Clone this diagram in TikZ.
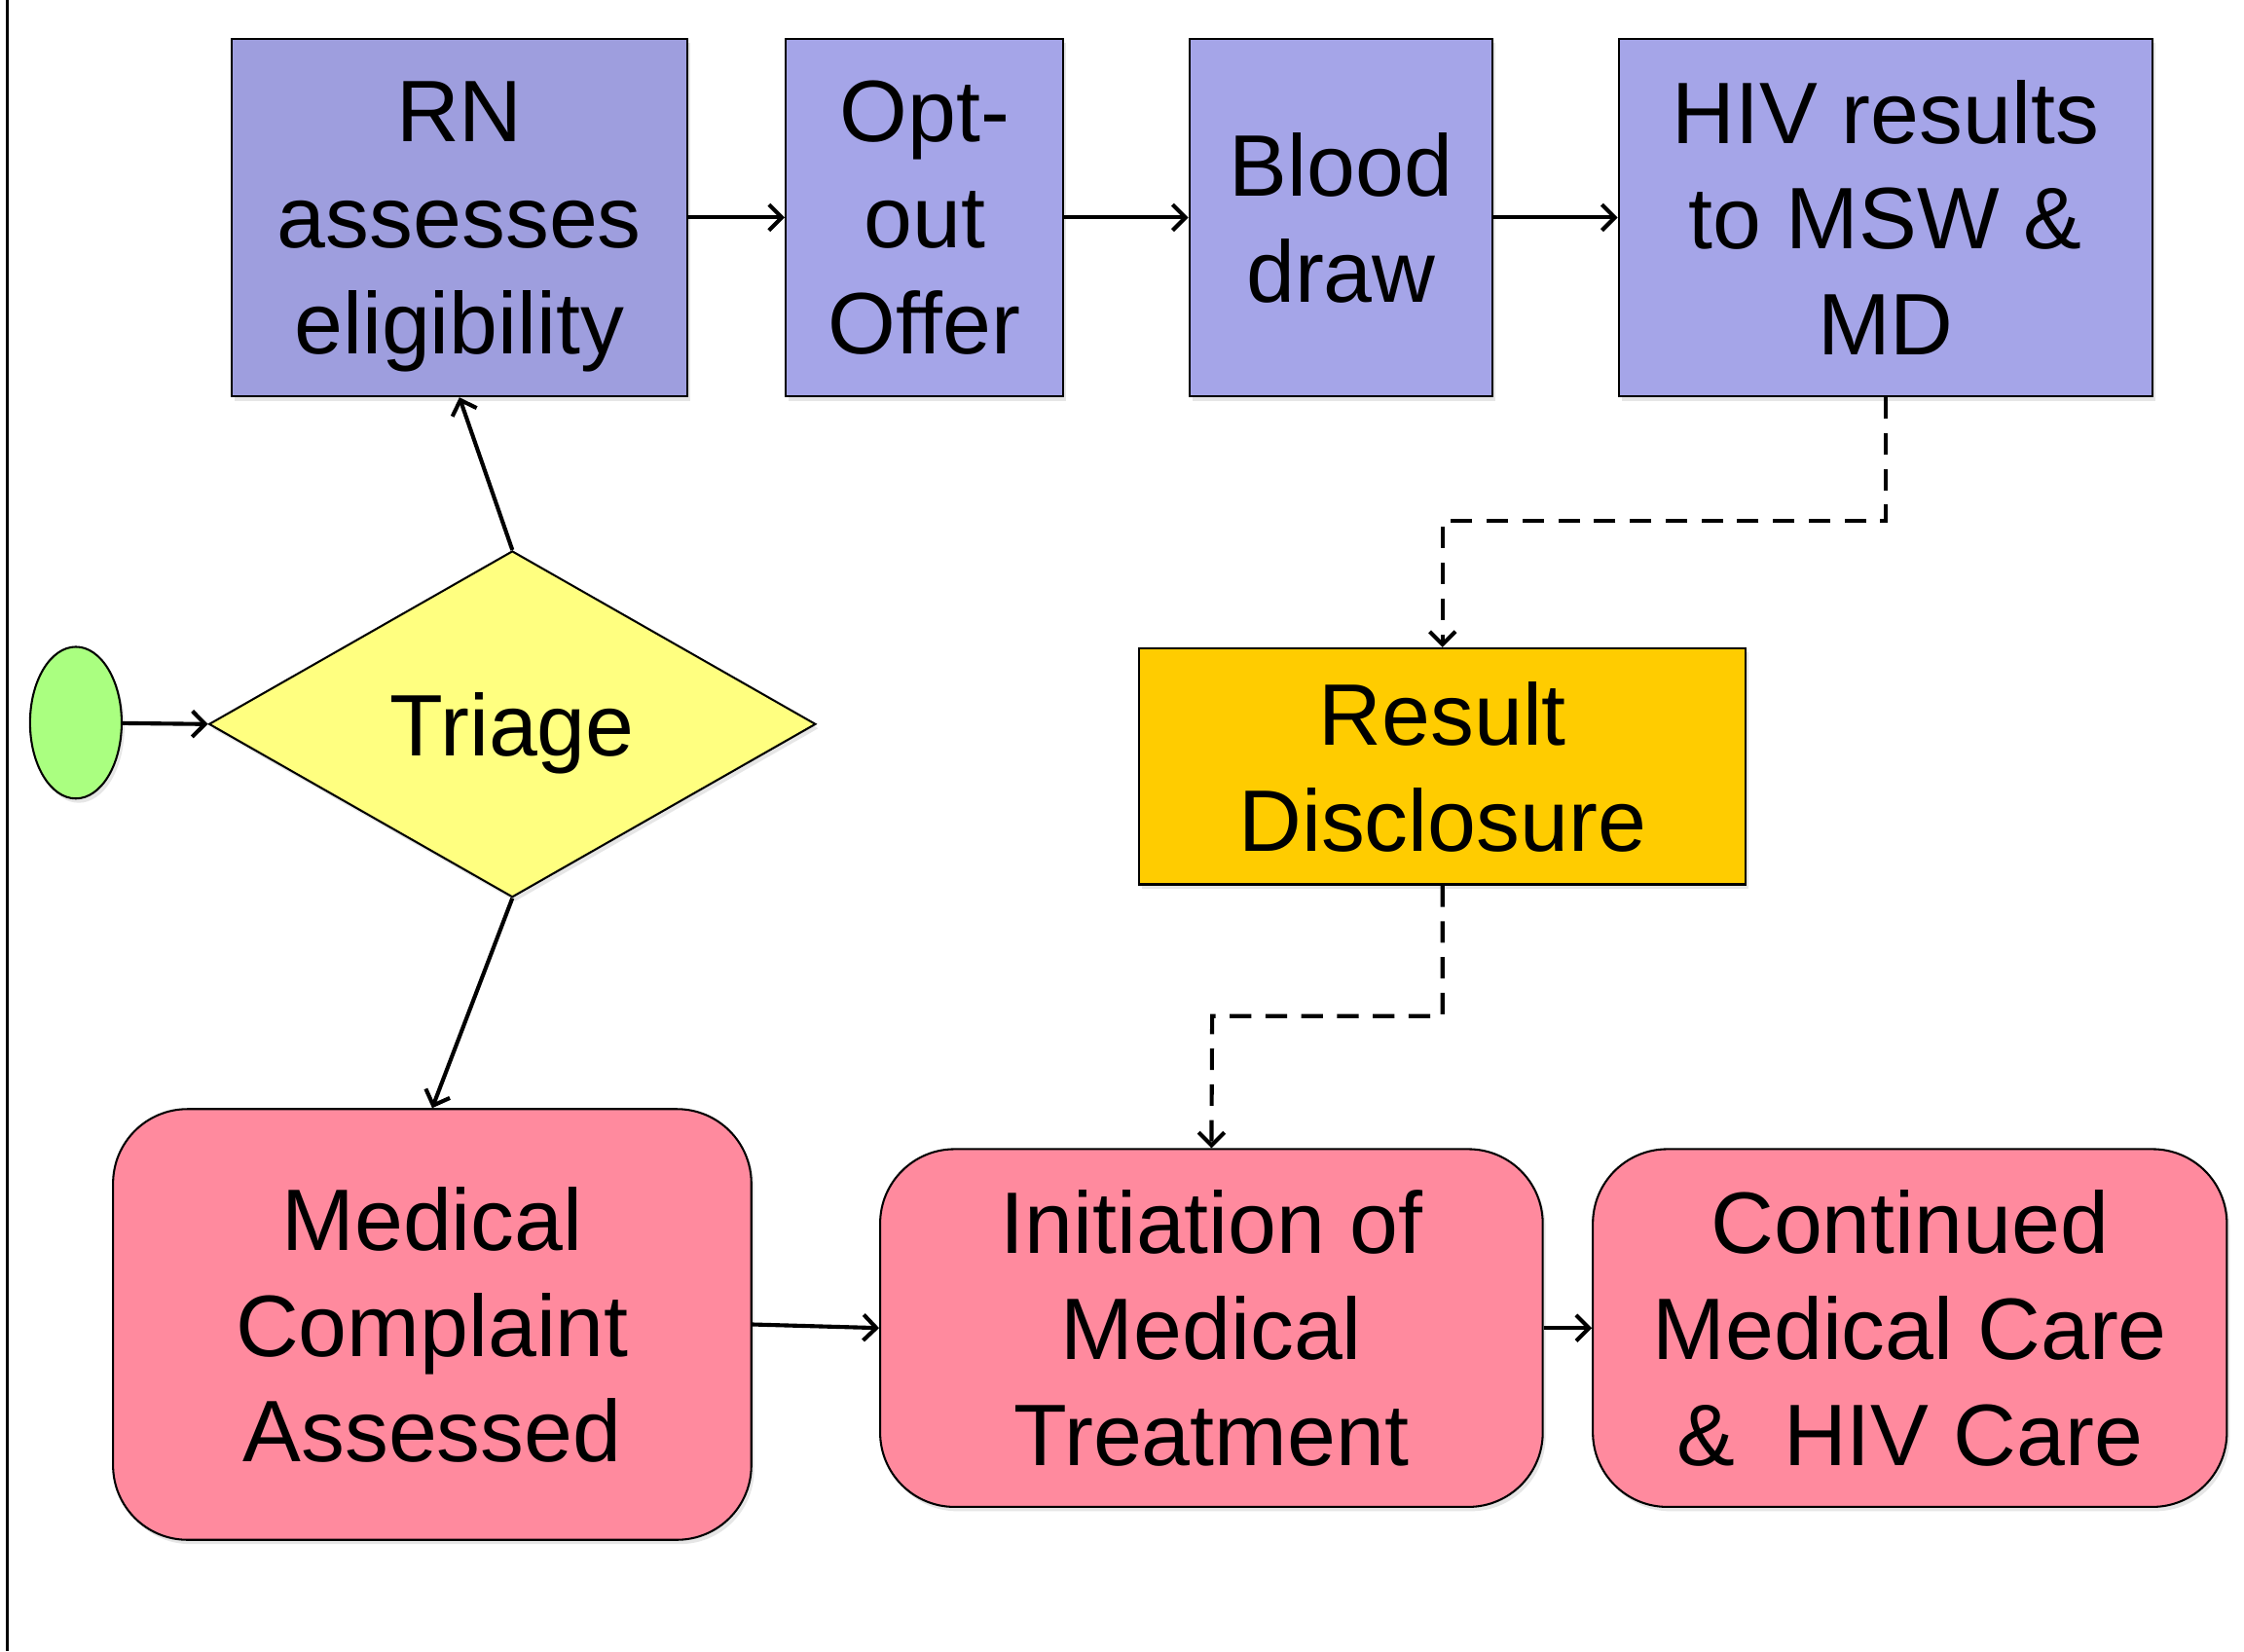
\documentclass[tikz,border=0pt]{standalone}
\usepackage{fontspec}
\setmainfont{Liberation Sans}
\usepackage{tikz}
\usetikzlibrary{positioning, shapes.geometric, arrows.meta, shadows}

\definecolor{rnblue}{HTML}{9E9EDE}
\definecolor{stepblue}{HTML}{A5A5E8}
\definecolor{gold}{HTML}{FFCC00}
\definecolor{lemon}{HTML}{FFFF80}
\definecolor{lime}{HTML}{AAFF80}
\definecolor{rose}{HTML}{FF8A9E}

\begin{document}
\begin{tikzpicture}[x=0.5pt, y=-0.5pt,
    every node/.style={font=\fontsize{30.5}{37}\selectfont, align=center, inner sep=0pt, text depth=0pt},
    boxshade/.style={drop shadow={opacity=0.2, shadow xshift=1pt, shadow yshift=-1.5pt}},
    testbox/.style={rectangle, draw=black, line width=0.7pt, fill=stepblue, minimum height=125pt, boxshade},
    carebox/.style={rectangle, rounded corners=26pt, draw=black, line width=0.7pt, fill=rose, minimum height=125pt, boxshade},
    flow/.style={-{Straight Barb[length=4.5pt, width=9pt]}, line width=1.4pt},
    dashflow/.style={flow, dash pattern=on 7.5pt off 5pt}]
    \useasboundingbox (0,0) rectangle (1568,1154);
    \draw[line width=1pt] (5,0) -- (5,1154);

    % top row
    \node[testbox, fill=rnblue, minimum width=159pt] (rn) at (321, 152) {RN\\assesses\\eligibility};
    \node[testbox, minimum width=97pt] (optout) at (646, 152) {Opt-\\out\\Offer};
    \node[testbox, minimum width=106pt] (blood) at (937, 152) {Blood\\draw};
    \node[testbox, minimum width=186.5pt] (hiv) at (1317.5, 152) {HIV results\\to MSW \&\\MD};

    % start and triage
    \node[ellipse, draw=black, line width=0.7pt, fill=lime, minimum width=32pt, minimum height=53pt, boxshade] (start) at (53, 505) {};
    \node[diamond, draw=black, line width=0.7pt, fill=lemon, minimum width=212pt, minimum height=121pt, boxshade] (triage) at (358, 506) {Triage};

    % disclosure
    \node[rectangle, draw=black, line width=0.7pt, fill=gold, minimum width=212pt, minimum height=82.5pt, boxshade] (disclose) at (1008, 535.5) {Result\\Disclosure};

    % bottom row
    \node[carebox, minimum width=223pt, minimum height=150.5pt] (complaint) at (302, 925.5) {Medical\\Complaint\\Assessed};
    \node[carebox, minimum width=231.5pt] (initiate) at (846.5, 928) {Initiation of\\Medical\\Treatment};
    \node[carebox, minimum width=221.5pt] (continued) at (1334.5, 928) {Continued\\Medical Care\\\&\ \ HIV Care};

    \coordinate (bendA) at (1008, 364);
    \coordinate (bendB) at (847, 710);

    \draw[flow] (start) -- (triage.west);
    \draw[flow] (triage.north) -- (rn.south);
    \draw[flow] (triage.south) -- (complaint.north);
    \draw[flow] (rn.east) -- (optout.west);
    \draw[flow] (optout.east) -- (blood.west);
    \draw[flow] (blood.east) -- (hiv.west);
    \draw[dashflow] (hiv.south) |- (bendA) -- (disclose.north);
    \draw[dashflow] (disclose.south) |- (bendB) -- (initiate.north);
    \draw[flow] (complaint.east) -- (initiate.west);
    \draw[flow] (initiate.east) -- (continued.west);
\end{tikzpicture}
\end{document}
